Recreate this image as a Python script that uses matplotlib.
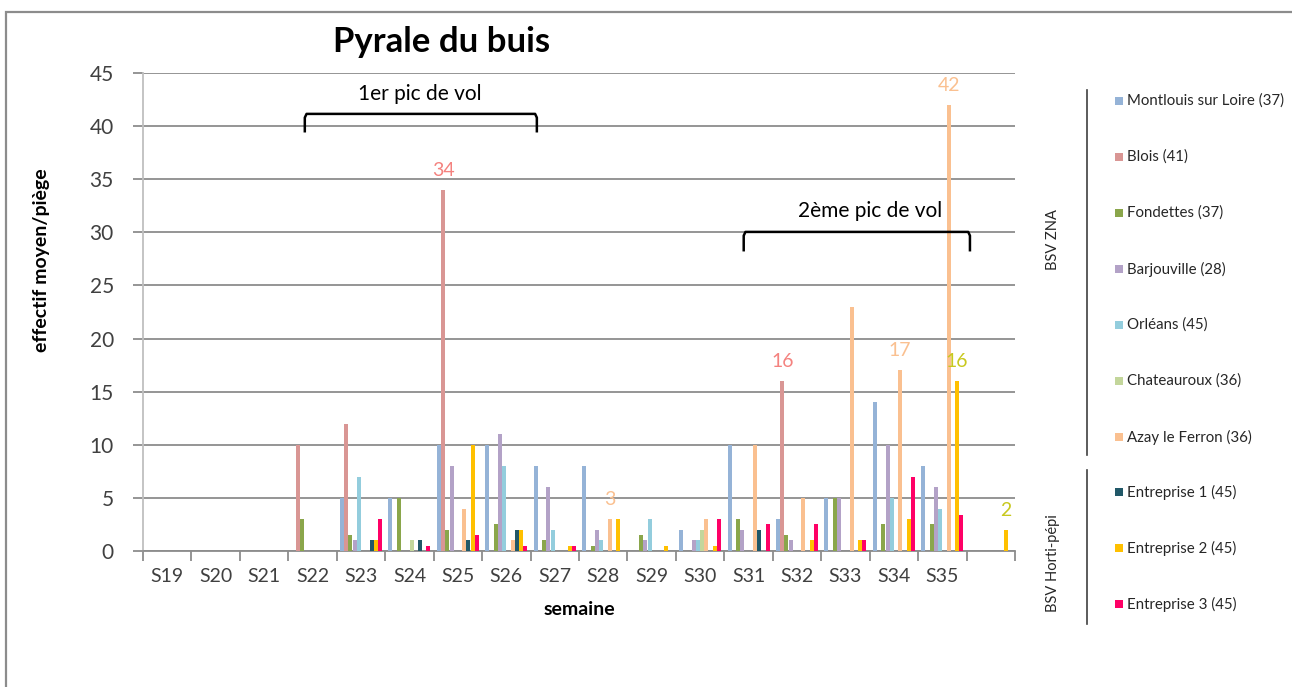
import matplotlib
matplotlib.use("Agg")
import matplotlib.pyplot as plt
from matplotlib.patches import Rectangle
from matplotlib.lines import Line2D
import numpy as np

plt.rcParams['font.family'] = ['Lato', 'DejaVu Sans']

weeks = ["S19", "S20", "S21", "S22", "S23", "S24", "S25", "S26", "S27",
         "S28", "S29", "S30", "S31", "S32", "S33", "S34", "S35", ""]

series_names = ["Montlouis sur Loire (37)", "Blois (41)", "Fondettes (37)",
                "Barjouville (28)", "Orléans (45)", "Chateauroux (36)",
                "Azay le Ferron (36)", "Entreprise 1 (45)", "Entreprise 2 (45)",
                "Entreprise 3 (45)"]

colors = ["#95B3D7", "#D99694", "#8AA64B", "#B3A2C7", "#93CDDD",
          "#C3D69B", "#FAC090", "#215868", "#FFC000", "#FF0066"]

#                 S19 S20 S21 S22 S23 S24 S25 S26 S27 S28 S29 S30 S31 S32 S33 S34 S35 --
montlouis     = [0, 0, 0, 0, 5, 5, 10, 10, 8, 8, 0, 2, 10, 3, 5, 14, 8, 0]
blois         = [0, 0, 0, 10, 12, 0, 34, 0, 0, 0, 0, 0, 0, 16, 0, 0, 0, 0]
fondettes     = [0, 0, 0, 3, 1.5, 5, 2, 2.5, 1, 0.5, 1.5, 0, 3, 1.5, 5, 2.5, 2.5, 0]
barjouville   = [0, 0, 0, 0, 1, 0, 8, 11, 6, 2, 1, 1, 2, 1, 5, 10, 6, 0]
orleans       = [0, 0, 0, 0, 7, 0, 0, 8, 2, 1, 3, 1, 0, 0, 0, 5, 4, 0]
chateauroux   = [0, 0, 0, 0, 0, 1, 0, 0, 0, 0, 0, 2, 0, 0, 0, 0, 0, 0]
azay          = [0, 0, 0, 0, 0, 0, 4, 1, 0, 3, 0, 3, 10, 5, 23, 17, 42, 0]
entreprise1   = [0, 0, 0, 0, 1, 1, 1, 2, 0, 0, 0, 0, 2, 0, 0, 0, 0, 0]
entreprise2   = [0, 0, 0, 0, 1, 0, 10, 2, 0.5, 3, 0.5, 0.5, 0, 1, 1, 3, 16, 2]
entreprise3   = [0, 0, 0, 0, 3, 0.5, 1.5, 0.5, 0.5, 0, 0, 3, 2.5, 2.5, 1, 7, 3.4, 0]

all_series = [montlouis, blois, fondettes, barjouville, orleans, chateauroux,
              azay, entreprise1, entreprise2, entreprise3]

# data labels shown on the chart: (series index, week index, colour)
labelled_points = [(1, 6, "#F4827F"), (6, 9, "#FAC090"), (1, 13, "#F4827F"),
                   (6, 15, "#FAC090"), (6, 16, "#FAC090"), (8, 16, "#C8C81E"),
                   (8, 17, "#C8C81E")]

W, H = 1292, 687
fig = plt.figure(figsize=(W / 100, H / 100), dpi=100)
fig.patch.set_facecolor("white")

ax = fig.add_axes([143 / W, 1 - 551 / H, (1015 - 143) / W, (551 - 73) / H])

n = len(all_series)
bw = 0.087
x = np.arange(len(weeks))
for i, (vals, c) in enumerate(zip(all_series, colors)):
    ax.bar(x + (i - (n - 1) / 2) * bw, vals, width=bw * 0.95, color=c,
           edgecolor="none", zorder=3)

for si, wi, c in labelled_points:
    v = all_series[si][wi]
    ax.annotate(f"{v:g}", xy=(x[wi] + (si - (n - 1) / 2) * bw, v),
                xytext=(0, 8), textcoords="offset points", ha="center",
                va="bottom", color=c, fontsize=14, zorder=4)

ax.set_xlim(-0.5, len(weeks) - 0.5)
ax.set_ylim(0, 45)
ax.set_yticks(np.arange(0, 46, 5))
ax.yaxis.grid(True, color="#8C8C8C", linewidth=1.3, zorder=0)
ax.set_axisbelow(True)

ax.set_xticks(x)
ax.set_xticklabels(weeks)
ax.set_xticks(np.arange(-0.5, len(weeks), 1.0), minor=True)
ax.tick_params(axis="x", which="major", length=0, pad=12, labelsize=14,
               labelcolor="#404040")
ax.tick_params(axis="x", which="minor", length=7, color="#8C8C8C", width=1.3)
ax.tick_params(axis="y", length=7, color="#8C8C8C", width=1.3, pad=14,
               labelsize=15, labelcolor="#404040")

for s in ["top", "right"]:
    ax.spines[s].set_visible(False)
ax.spines["left"].set_color("#BFBFBF")
ax.spines["left"].set_linewidth(1.3)
ax.spines["bottom"].set_color("#8C8C8C")
ax.spines["bottom"].set_linewidth(1.3)

ax.set_ylabel("effectif moyen/piège", fontsize=14, fontweight="bold",
              color="#000000")
ax.yaxis.set_label_coords(-0.107, 0.609)
ax.set_xlabel("semaine", fontsize=14, fontweight="bold", labelpad=12)

fig.text(442 / W, 1 - 42 / H, "Pyrale du buis", fontsize=25,
         fontweight="bold", ha="center", va="center")

# brackets (annotations)
def bracket(x0, x1, ytop, ybot):
    r = 0.12
    ax.plot([x0, x0, x0 + r * 0.3, x1 - r * 0.3, x1, x1],
            [ybot, ytop - 0.35, ytop, ytop, ytop - 0.35, ybot],
            color="black", lw=1.8, zorder=5, solid_capstyle="butt",
            clip_on=False)

bracket(2.84, 7.63, 41.15, 39.4)
ax.text(5.22, 43.0, "1er pic de vol", ha="center", va="center", fontsize=15,
        zorder=5)
bracket(11.9, 16.57, 30.04, 28.2)
ax.text(14.5, 32.0, "2ème pic de vol", ha="center", va="center", fontsize=15,
        zorder=5)

# outer frame
fig.patches.append(Rectangle((6 / W, -0.1), 1.2, 1 - 12 / H + 0.1,
                             transform=fig.transFigure, fill=False,
                             edgecolor="#8C8C8C", linewidth=1.6))

# custom legend
ys = [101, 157, 213, 269, 325, 381, 437, 492, 548, 604]
for name, c, yy in zip(series_names, colors, ys):
    fig.patches.append(Rectangle((1115 / W, 1 - (yy + 4) / H), 8 / W, 8 / H,
                                 transform=fig.transFigure, facecolor=c,
                                 edgecolor="none"))
    fig.text(1127 / W, 1 - yy / H, name, fontsize=10.8, va="center",
             ha="left", color="#262626")

fig.add_artist(Line2D([1087 / W, 1087 / W], [1 - 90 / H, 1 - 455 / H],
                      color="#404040", lw=1.2))
fig.add_artist(Line2D([1087 / W, 1087 / W], [1 - 470 / H, 1 - 624 / H],
                      color="#404040", lw=1.2))
fig.text(1053 / W, 1 - 240 / H, "BSV ZNA", rotation=90, fontsize=10.5,
         ha="center", va="center", color="#262626")
fig.text(1053 / W, 1 - 563 / H, "BSV Horti-pépi", rotation=90, fontsize=10.5,
         ha="center", va="center", color="#262626")

fig.savefig("out.png", dpi=100, facecolor="white")
